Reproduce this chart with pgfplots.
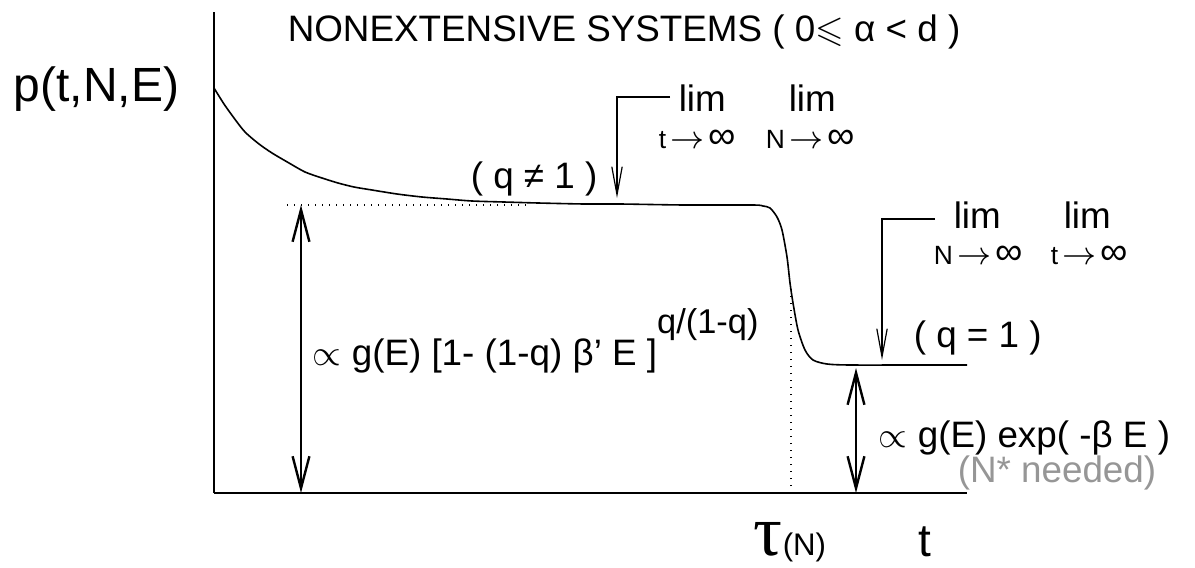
\documentclass[border=0pt]{standalone}
\usepackage{pgfplots}
\pgfplotsset{compat=1.18}
\usepackage{amssymb}
\usepackage{fontspec}
\setmainfont{Liberation Sans}
\newfontfamily\serifgr{Liberation Serif}
\usetikzlibrary{arrows.meta}
\definecolor{ngray}{RGB}{150,150,150}
\newcommand{\mainf}{\fontsize{9.2}{11}\selectfont}
\newcommand{\subf}{\fontsize{6.6}{8}\selectfont}
\newcommand{\arr}{{\fontsize{8}{8}\selectfont$\rightarrow$}}
\newcommand{\inff}{{\fontsize{9.6}{9.6}\selectfont ∞}}
\begin{document}
\begin{tikzpicture}
\begin{axis}[
  scale only axis, width=188.25pt, height=120.25pt,
  xmin=0, xmax=753, ymin=0, ymax=481,
  axis x line=bottom, axis y line=left,
  axis line style={-, line width=0.35pt},
  xtick=\empty, ytick=\empty,
  clip=false,
]
\coordinate (bl) at (axis cs:-214,-74);
\coordinate (tr) at (axis cs:981,493);
% main curve
\addplot[black, line width=0.4pt, smooth, tension=0.45] coordinates {
(0,405) (10,389) (20,375) (31,361) (45,349) (58,340) (75,330) (91,321)
(108,315) (124,310) (140,306) (158,303) (183,299) (208,296) (233,294)
(258,292) (290,291) (324,290) (370,289) (406,289) (470,288) (539,288)
(549,287) (556,285) (563,276) (568,263) (573,236) (576,210) (579,190)
(584,163) (591,143) (599,133) (613,129) (636,128) (700,128) (753,128)};
% dotted guides
\addplot[black, line width=0.35pt, dash pattern=on 0.35pt off 1.4pt] coordinates {(73,288) (316,288)};
\addplot[black, line width=0.35pt, dash pattern=on 0.35pt off 1.4pt] coordinates {(577,0) (577,205)};
% double arrows
\addplot[black, line width=0.6pt, {Straight Barb[length=8pt,width=4.2pt]}-{Straight Barb[length=8pt,width=4.2pt]}] coordinates {(87,0) (87,288)};
\addplot[black, line width=0.6pt, {Straight Barb[length=8pt,width=4.2pt]}-{Straight Barb[length=8pt,width=4.2pt]}] coordinates {(642,0) (642,125)};
% lim arrows
\addplot[black, line width=0.3pt, -{Straight Barb[length=7pt,width=2.6pt]}] coordinates {(456,396) (403,396) (403,295)};
\addplot[black, line width=0.3pt, -{Straight Barb[length=7pt,width=2.6pt]}] coordinates {(721,274) (668,274) (668,133)};
% texts
\node[anchor=base west, inner sep=0, font=\mainf] at (axis cs:73,451) {NONEXTENSIVE SYSTEMS ( 0$\leqslant$ α < d )};
\node[anchor=base west, inner sep=0, font=\fontsize{12}{14}\selectfont] at (axis cs:-201,391) {p(t,N,E)};
\node[anchor=base west, inner sep=0, font=\mainf] at (axis cs:256,305) {( q ≠ 1 )};
\node[anchor=base west, inner sep=0, font=\mainf] at (axis cs:464,382) {lim};
\node[anchor=base west, inner sep=0, font=\mainf] at (axis cs:574,382) {lim};
\node[anchor=base west, inner sep=0, font=\subf] at (axis cs:444,344) {t\,\arr\,\inff};
\node[anchor=base west, inner sep=0, font=\subf] at (axis cs:551,344) {N\,\arr\,\inff};
\node[anchor=base west, inner sep=0, font=\mainf] at (axis cs:739,265) {lim};
\node[anchor=base west, inner sep=0, font=\mainf] at (axis cs:849,265) {lim};
\node[anchor=base west, inner sep=0, font=\subf] at (axis cs:719,229) {N\,\arr\,\inff};
\node[anchor=base west, inner sep=0, font=\subf] at (axis cs:836,229) {t\,\arr\,\inff};
\node[anchor=base west, inner sep=0, font=\mainf] at (axis cs:699,146) {( q = 1 )};
\node[anchor=base west, inner sep=0, font=\mainf] at (axis cs:664,46) {$\propto$ g(E) exp( -β E )};
\node[anchor=base west, inner sep=0, font=\mainf, text=ngray] at (axis cs:743,11) {(N* needed)};
\node[anchor=base west, inner sep=0, font=\mainf] at (axis cs:98,128) {$\propto$ g(E) [1- (1-q) β' E ]\raisebox{8pt}{\fontsize{8.6}{10}\selectfont q/(1-q)}};
\node[anchor=base west, inner sep=0] at (axis cs:539,-62) {{\serifgr\fontsize{18}{18}\selectfont τ}{\fontsize{7.8}{9}\selectfont(N)}};
\node[anchor=base west, inner sep=0, font=\fontsize{11.5}{13}\selectfont] at (axis cs:704,-63) {t};
\end{axis}
\pgfresetboundingbox
\path (bl) rectangle (tr);
\end{tikzpicture}
\end{document}
